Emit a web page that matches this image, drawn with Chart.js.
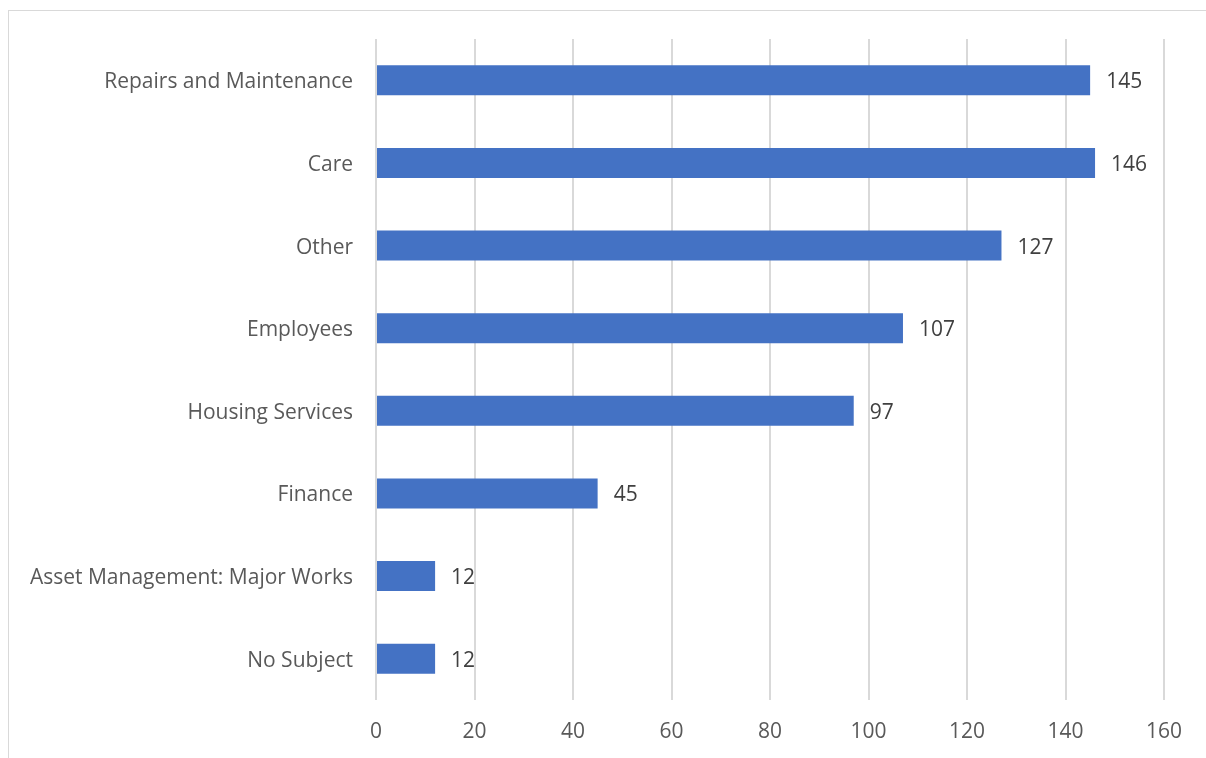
<!DOCTYPE html>
<html>
<head>
<meta charset="utf-8">
<style>
  html, body { margin: 0; padding: 0; background: #ffffff; overflow: hidden; }
  #wrap { position: relative; width: 1206px; height: 758px; }
</style>
<script src="https://cdn.jsdelivr.net/npm/chart.js@4.4.1/dist/chart.umd.min.js"></script>
</head>
<body>
<div id="wrap"><canvas id="chart" width="1206" height="758"></canvas></div>
<script>
const categories = [
  'Repairs and Maintenance',
  'Care',
  'Other',
  'Employees',
  'Housing Services',
  'Finance',
  'Asset Management: Major Works',
  'No Subject'
];
const counts = [145, 146, 127, 107, 97, 45, 12, 12];
const xTicks = [0, 20, 40, 60, 80, 100, 120, 140, 160];

const FONT = '"Open Sans", Lato, sans-serif';
const FONT_SIZE = 21;

// Light frame around the chart area of the sheet
const framePlugin = {
  id: 'frame',
  beforeDraw(chart) {
    const ctx = chart.ctx;
    ctx.save();
    ctx.strokeStyle = '#d9d9d9';
    ctx.lineWidth = 1;
    ctx.strokeRect(8.5, 10.5, 1400, 1000);
    ctx.restore();
  }
};

// Value labels to the right of each bar
const valueLabels = {
  id: 'valueLabels',
  afterDatasetsDraw(chart) {
    const ctx = chart.ctx;
    const meta = chart.getDatasetMeta(0);
    ctx.save();
    ctx.font = FONT_SIZE + 'px ' + FONT;
    ctx.fillStyle = '#404040';
    ctx.textAlign = 'left';
    ctx.textBaseline = 'middle';
    meta.data.forEach((bar, i) => {
      ctx.fillText(String(counts[i]), bar.x + 16, bar.y + 2);
    });
    ctx.restore();
  }
};

new Chart(document.getElementById('chart'), {
  type: 'bar',
  data: {
    labels: categories,
    datasets: [{
      data: counts,
      backgroundColor: '#4472c4',
      borderWidth: 0,
      barPercentage: 0.363,
      categoryPercentage: 1.0
    }]
  },
  options: {
    indexAxis: 'y',
    responsive: false,
    animation: false,
    events: [],
    layout: { padding: { left: 0, top: 39, right: 42, bottom: 0 } },
    plugins: { legend: { display: false }, tooltip: { enabled: false } },
    scales: {
      x: {
        min: 0,
        max: 160,
        afterBuildTicks(scale) { scale.ticks = xTicks.map(v => ({ value: v })); },
        afterFit(scale) { scale.height = 58; },
        grid: { color: '#d9d9d9', lineWidth: 2, drawTicks: false },
        border: { display: false },
        ticks: {
          padding: 19,
          color: '#595959',
          font: { family: FONT, size: FONT_SIZE }
        }
      },
      y: {
        afterFit(scale) { scale.width = 376; },
        grid: { display: false, drawTicks: false },
        border: { display: false },
        ticks: {
          padding: 23,
          labelOffset: 2,
          color: '#595959',
          font: { family: FONT, size: FONT_SIZE }
        }
      }
    }
  },
  plugins: [framePlugin, valueLabels]
});
</script>
</body>
</html>
